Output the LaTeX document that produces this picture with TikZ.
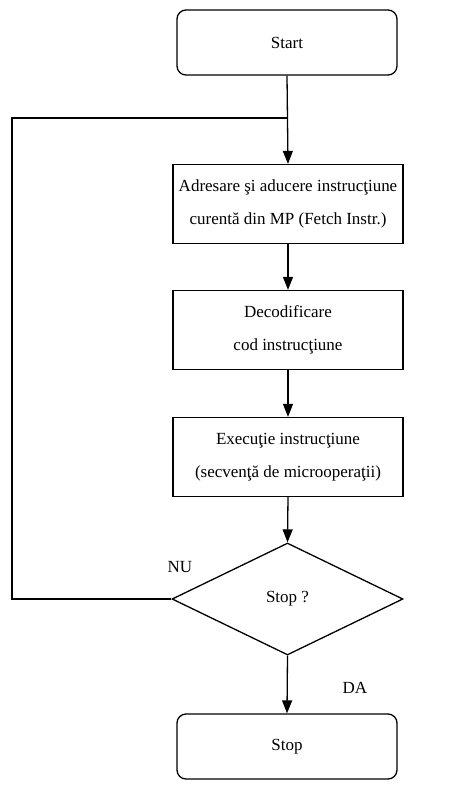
\documentclass[tikz,border=0pt]{standalone}
\usepackage{fontspec}
\setmainfont{Liberation Serif}
\usetikzlibrary{shapes.geometric,arrows.meta}

\begin{document}
\begin{tikzpicture}[x=1pt,y=-1pt,
  txt/.style={font=\fontsize{17}{33}\selectfont},
  flow/.style={line width=1.3pt},
  arr/.style={flow,-{Triangle[length=13pt,width=10pt]}},
  term/.style={draw,line width=1.3pt,rounded corners=9pt,minimum width=220pt,minimum height=65pt,inner sep=0pt,txt},
  proc/.style={draw,line width=1.3pt,minimum width=230pt,minimum height=79pt,inner sep=0pt,align=center,txt},
  decis/.style={draw,diamond,line width=1.3pt,minimum width=231pt,minimum height=112pt,inner sep=0pt,txt},
  lbl/.style={inner sep=0pt,txt}]
  \useasboundingbox (0,0) rectangle (467,796);

  % terminals, process steps and the decision
  \node[term] (start) at (287,42.5) {Start};
  \node[proc] (fetch) at (288,204) {Adresare şi aducere instrucţiune\\curentă din MP (Fetch Instr.)};
  \node[proc] (decode) at (288,330) {Decodificare\\cod instrucţiune};
  \node[proc] (exec) at (288,457) {Execuţie instrucţiune\\(secvenţă de microoperaţii)};
  \node[decis] (test) at (287.5,599) {Stop ?};
  \node[term] (stop) at (287,746.5) {Stop};

  % return path of the loop
  \coordinate (join) at (287,118);
  \coordinate (loopbot) at (12,599);
  \coordinate (looptop) at (12,118);

  \draw[arr] (start.south) -- (fetch.north);
  \draw[arr] (fetch.south) -- (decode.north);
  \draw[arr] (decode.south) -- (exec.north);
  \draw[arr] (exec.south) -- (test.north);
  \draw[arr] (test.south) -- (stop.north);
  \draw[flow] (test.west) -- (loopbot) -- (looptop) -- (join);

  \node[lbl] (nu) at (180,567) {NU};
  \node[lbl] (da) at (355,688) {DA};
\end{tikzpicture}
\end{document}
